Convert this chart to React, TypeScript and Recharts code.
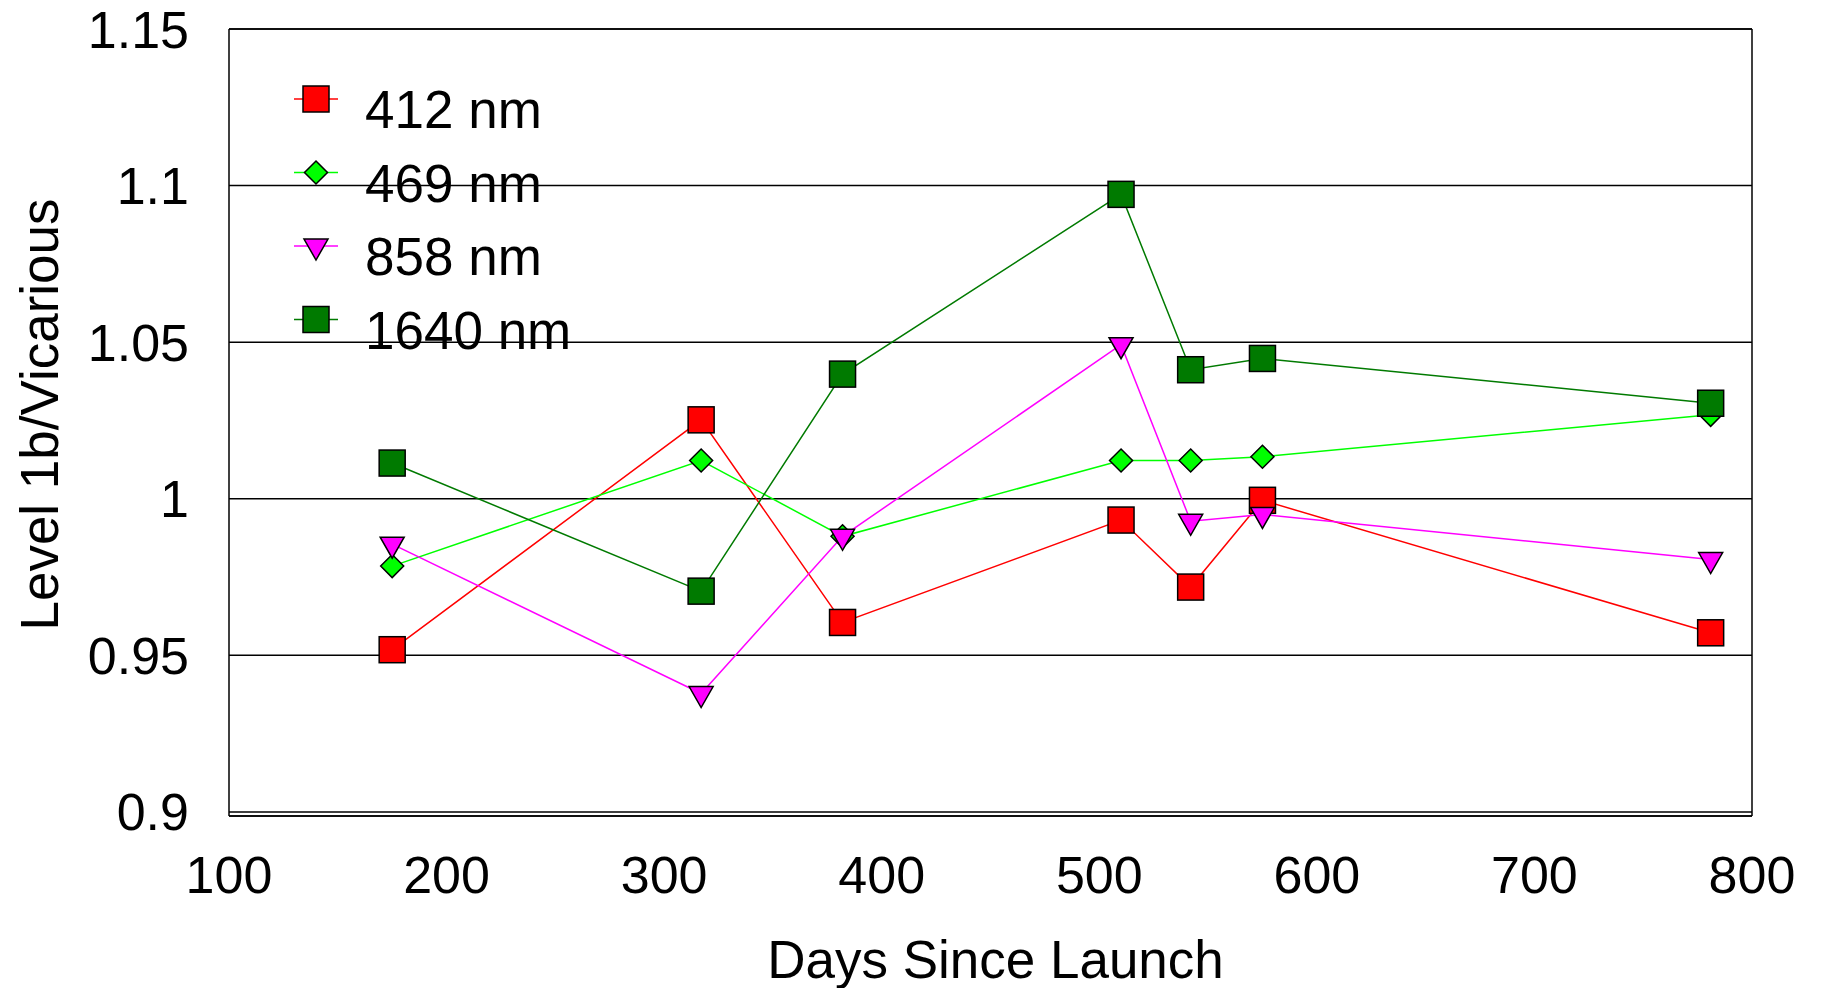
import React from "react";
import {
  LineChart,
  Line,
  XAxis,
  YAxis,
  CartesianGrid,
  ReferenceLine,
} from "recharts";

const DAYS = [175, 317, 382, 510, 542, 575, 781];
const R412 = [0.9518, 1.0252, 0.9605, 0.9932, 0.9718, 0.9995, 0.9572];
const G469 = [0.9785, 1.0122, 0.988, 1.0122, 1.0122, 1.0134, 1.0268];
const M858 = [0.9855, 0.9378, 0.988, 1.0492, 0.9928, 0.995, 0.9806];
const G1640 = [1.0114, 0.9705, 1.0398, 1.0972, 1.0412, 1.0448, 1.0305];

const X_TICKS = [100, 200, 300, 400, 500, 600, 700, 800];
const Y_TICKS = [0.9, 0.95, 1, 1.05, 1.1, 1.15];

type Shape = "square" | "diamond" | "triangle";

const SERIES: { key: string; name: string; color: string; shape: Shape; values: number[] }[] = [
  { key: "r412", name: "412 nm", color: "#ff0000", shape: "square", values: R412 },
  { key: "g469", name: "469 nm", color: "#00ff00", shape: "diamond", values: G469 },
  { key: "m858", name: "858 nm", color: "#ff00ff", shape: "triangle", values: M858 },
  { key: "g1640", name: "1640 nm", color: "#007a00", shape: "square", values: G1640 },
];

const data = DAYS.map((day, i) => {
  const row: Record<string, number> = { day };
  SERIES.forEach((s) => (row[s.key] = s.values[i]));
  return row;
});

const FONT = '"Liberation Sans", Arial, Helvetica, sans-serif';

function Marker({ cx, cy, fill, shape }: { cx: number; cy: number; fill: string; shape: Shape }) {
  if (shape === "square") {
    return <rect x={cx - 13} y={cy - 13} width={26} height={26} fill={fill} stroke="#000" strokeWidth={1.5} />;
  }
  if (shape === "diamond") {
    const r = 11.5;
    return (
      <polygon
        points={`${cx},${cy - r} ${cx + r},${cy} ${cx},${cy + r} ${cx - r},${cy}`}
        fill={fill}
        stroke="#000"
        strokeWidth={1.5}
      />
    );
  }
  // downward triangle, centroid on the point
  return (
    <polygon
      points={`${cx - 12},${cy - 7} ${cx + 12},${cy - 7} ${cx},${cy + 14}`}
      fill={fill}
      stroke="#000"
      strokeWidth={1.5}
    />
  );
}

const dotFor = (color: string, shape: Shape) => (p: any) => (
  <Marker key={p.index} cx={p.cx} cy={p.cy} fill={color} shape={shape} />
);

function LegendBox() {
  return (
    <svg
      width={600}
      height={400}
      style={{ position: "absolute", left: 0, top: 0, pointerEvents: "none" }}
    >
      {SERIES.map((s, i) => {
        const cy = 99 + i * 73.5;
        return (
          <g key={s.key}>
            <line x1={294} x2={338} y1={cy} y2={cy} stroke={s.color} strokeWidth={1.5} />
            <Marker cx={316} cy={cy} fill={s.color} shape={s.shape} />
            <text x={365} y={cy + 29} fontSize={53} fontFamily={FONT} fill="#000">
              {s.name}
            </text>
          </g>
        );
      })}
    </svg>
  );
}

export default function App() {
  return (
    <div style={{ position: "absolute", left: 0, top: 0, width: 1821, height: 988, background: "#fff" }}>
      <LineChart
        width={1821}
        height={988}
        data={data}
        margin={{ top: 29, right: 69, bottom: 0, left: 0 }}
        style={{ fontFamily: FONT }}
      >
        <CartesianGrid vertical={false} stroke="#000" strokeWidth={1.5} />
        <XAxis
          type="number"
          dataKey="day"
          domain={[100, 800]}
          ticks={X_TICKS}
          height={172}
          tickSize={0}
          tickLine={false}
          tickMargin={40}
          axisLine={{ stroke: "#000", strokeWidth: 1.5 }}
          tick={{ fill: "#000", fontSize: 52, fontFamily: FONT }}
          allowDataOverflow
          label={{
            content: (props: any) => {
              const vb = props.viewBox;
              return (
                <text
                  x={vb.x + vb.width / 2 + 5}
                  y={vb.y + 162}
                  textAnchor="middle"
                  fontSize={53}
                  fontFamily={FONT}
                  fill="#000"
                >
                  Days Since Launch
                </text>
              );
            },
          }}
        />
        <YAxis
          type="number"
          domain={[0.8987, 1.15]}
          ticks={Y_TICKS}
          width={229}
          tickSize={0}
          tickLine={false}
          tickMargin={40}
          allowDataOverflow
          axisLine={{ stroke: "#000", strokeWidth: 1.5 }}
          tick={{ fill: "#000", fontSize: 52, fontFamily: FONT }}
          tickFormatter={(v: number) => String(v)}
          label={{
            content: (props: any) => {
              const vb = props.viewBox;
              const x = vb.x + 58;
              const y = vb.y + vb.height / 2 - 8;
              return (
                <text
                  x={x}
                  y={y}
                  transform={`rotate(-90, ${x}, ${y})`}
                  textAnchor="middle"
                  fontSize={53}
                  fontFamily={FONT}
                  fill="#000"
                >
                  Level 1b/Vicarious
                </text>
              );
            },
          }}
        />
        <ReferenceLine x={800} stroke="#000" strokeWidth={1.5} />
        <ReferenceLine y={1.15} stroke="#000" strokeWidth={1.5} />
        {SERIES.map((s) => (
          <Line
            key={s.key}
            type="linear"
            dataKey={s.key}
            name={s.name}
            stroke={s.color}
            strokeWidth={1.5}
            dot={dotFor(s.color, s.shape)}
            activeDot={false}
            isAnimationActive={false}
          />
        ))}
      </LineChart>
      <LegendBox />
    </div>
  );
}
